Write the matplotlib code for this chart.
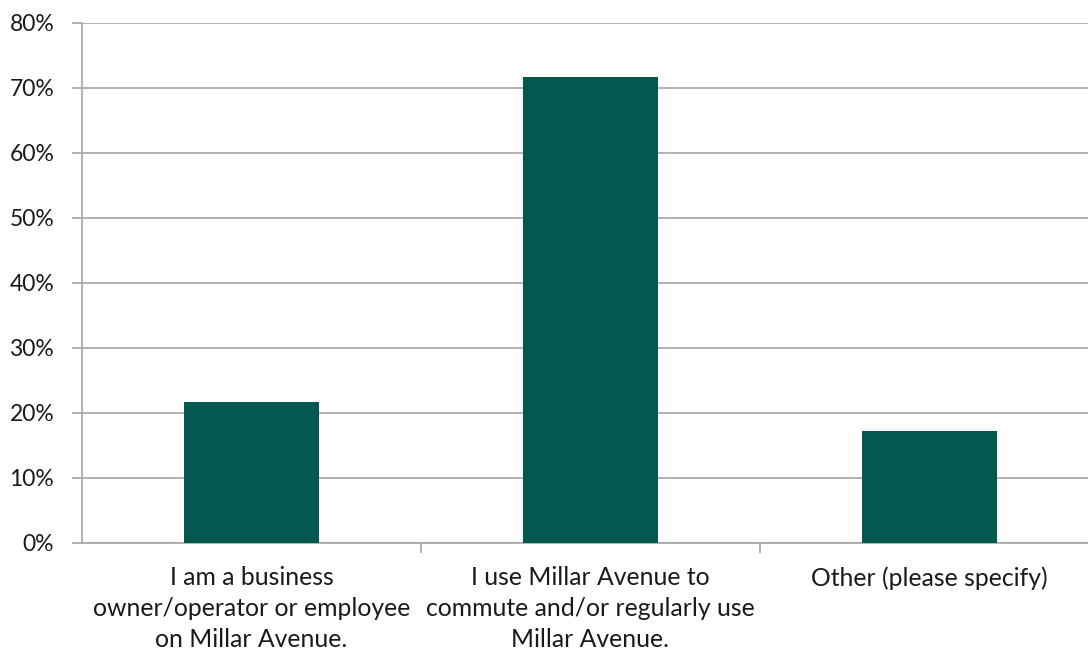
import matplotlib
matplotlib.use("Agg")
import matplotlib.pyplot as plt
from matplotlib.ticker import PercentFormatter

# survey responses (share of respondents, %)
categories = [
    "I am a business\nowner/operator or employee\non Millar Avenue.",
    "I use Millar Avenue to\ncommute and/or regularly use\nMillar Avenue.",
    "Other (please specify)",
]
shares = [21.6, 71.7, 17.2]
y_ticks = [0, 10, 20, 30, 40, 50, 60, 70, 80]

bar_color = "#03594f"
grid_color = "#a6a6a6"

plt.rcParams["font.family"] = ["Lato", "DejaVu Sans"]

fig = plt.figure(figsize=(10.88, 6.52), dpi=100)
ax = fig.add_axes([82 / 1088, 1 - 542.7 / 652, 1 - 82 / 1088, (542.7 - 23) / 652])

x = range(len(categories))
ax.bar(x, shares, width=0.4, color=bar_color, zorder=3)

ax.set_ylim(0, 80)
ax.set_xlim(-0.5, 2.468)
ax.set_yticks(y_ticks)
ax.yaxis.set_major_formatter(PercentFormatter(decimals=0))
ax.grid(axis="y", color=grid_color, linewidth=1.2, zorder=0)

# category separators as major ticks, labels on minor ticks at bar centres
ax.set_xticks([0.5, 1.5])
ax.set_xticklabels([])
ax.set_xticks(list(x), minor=True)
ax.set_xticklabels(categories, minor=True, fontsize=17.8, linespacing=1.42,
                   color="#1a1a1a")
ax.tick_params(axis="x", which="major", length=7, color=grid_color, width=1.2)
ax.tick_params(axis="x", which="minor", length=0, pad=17)
ax.tick_params(axis="y", length=7, color=grid_color, width=1.2, labelsize=16.5,
               pad=13, labelcolor="#1a1a1a")

for side in ("top", "right"):
    ax.spines[side].set_visible(False)
for side in ("left", "bottom"):
    ax.spines[side].set_color(grid_color)
    ax.spines[side].set_linewidth(1.2)

fig.savefig("out.png", dpi=100)
